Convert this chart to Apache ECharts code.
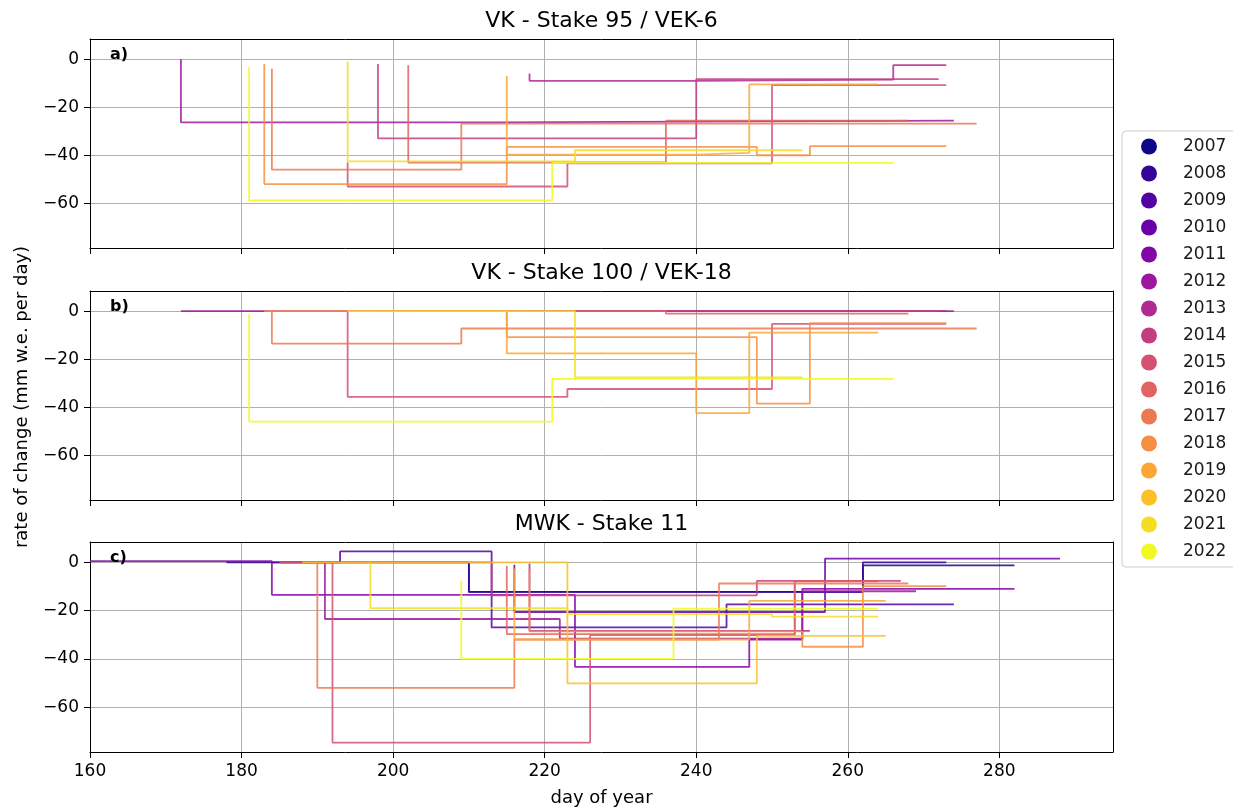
<!DOCTYPE html>
<html><head><meta charset="utf-8">
<script src="https://cdn.jsdelivr.net/npm/echarts@6/dist/echarts.min.js"></script>
<style>html,body{margin:0;padding:0;background:#fff}#c{width:1233px;height:809px}</style>
</head><body><div id="c"></div>
<script>
// ---------- data ----------
const years = [2007,2008,2009,2010,2011,2012,2013,2014,2015,2016,2017,2018,2019,2020,2021,2022];
const xTicks = [160,180,200,220,240,260,280];
const yTicks = [0,-20,-40,-60];
const panelTitles = ['VK - Stake 95 / VEK-6','VK - Stake 100 / VEK-18','MWK - Stake 11'];
const panelLetters = ['a)','b)','c)'];

// panel a) VK - Stake 95 / VEK-6   [day, rate]  (step drawn at start of each interval)
const a2012 = [[172,0],[213,-26.3],[274,-25.6]];
const a2013 = [[218,-6],[240,-9],[266,-8.5],[273,-2.5]];
const a2014 = [[198,-2],[240,-33],[272,-8.3]];
const a2015 = [[194,-43],[223,-53],[250,-43.4],[273,-10.8]];
const a2016 = [[202,-2.5],[236,-43],[268,-25.6]];
const a2017 = [[184,-4],[209,-46],[277,-26.8]];
const a2018 = [[183,-2],[215,-52],[248,-36.5],[255,-40],[273,-36.2]];
const a2019 = [[215,-7],[240,-39.7],[247,-39],[264,-10.5]];
const a2021 = [[194,-1.1],[224,-42.5],[254,-37.9]];
const a2022 = [[181,-3.4],[221,-58.8],[266,-43.2]];

// panel b) VK - Stake 100 / VEK-18
const b2012 = [[172,0],[274,0]];
const b2013 = [[218,0],[273,0]];
const b2014 = [[198,0],[272,0]];
const b2015 = [[194,0],[223,-35.7],[250,-32.4],[273,-5.3]];
const b2016 = [[202,0],[236,0],[268,-1]];
const b2017 = [[184,0],[209,-13.5],[277,-7.2]];
const b2018 = [[183,0],[215,0],[248,-10.8],[255,-38.5],[273,-5]];
const b2019 = [[215,0],[240,-17.6],[247,-42.4],[264,-8.9]];
const b2021 = [[194,0],[224,0],[254,-27.6]];
const b2022 = [[181,-1.3],[221,-46],[266,-28.2]];

// panel c) MWK - Stake 11
const c2007 = [[210,-0.5],[262,-12.3],[282,-1.3]];
const c2008 = [[178,0],[210,0],[262,-12.3],[273,0]];
const c2009 = [[184,0],[193,0],[213,4.5],[244,-27],[274,-17.4]];
const c2010 = [[216,-1],[257,-20.6],[288,1.5]];
const c2011 = [[160,0.5],[184,0.5],[224,-13.5],[247,-43.3],[254,-32],[282,-11]];
const c2012 = [[191,0],[222,-23.5],[254,-31.6],[269,-12]];
const c2013 = [[218,-0.5],[255,-28.4]];
const c2014 = [[185,0],[213,0],[248,-13.7],[267,-7.7]];
const c2015 = [[185,0],[192,0],[226,-74.7],[253,-30.2],[264,-7.7]];
const c2016 = [[215,-1.5],[253,-29.8],[264,-7.9]];
const c2017 = [[190,0],[216,-52],[243,-32],[268,-8.8]];
const c2018 = [[218,-3],[254,-28.6],[262,-35],[273,-9.9]];
const c2019 = [[216,-2.6],[247,-32],[265,-16]];
const c2020 = [[188,0],[223,0],[248,-50.2],[265,-30.5]];
const c2021 = [[197,0],[223,-19],[250,-21.5],[264,-22.5]];
const c2022 = [[209,-7.7],[237,-40],[264,-19.2]];

const panelData = [
  {2012:a2012,2013:a2013,2014:a2014,2015:a2015,2016:a2016,2017:a2017,2018:a2018,2019:a2019,2021:a2021,2022:a2022},
  {2012:b2012,2013:b2013,2014:b2014,2015:b2015,2016:b2016,2017:b2017,2018:b2018,2019:b2019,2021:b2021,2022:b2022},
  {2007:c2007,2008:c2008,2009:c2009,2010:c2010,2011:c2011,2012:c2012,2013:c2013,2014:c2014,2015:c2015,2016:c2016,2017:c2017,2018:c2018,2019:c2019,2020:c2020,2021:c2021,2022:c2022}
];

// ---------- style ----------
const plasma = ['#0d0887','#350498','#5302a3','#6a00a8','#8405a7','#9c179e','#b12a90','#c33d80',
                '#d35171','#e16462','#ed7953','#f68f44','#fca636','#fdc028','#f5dd24','#f0f921'];
const FONT = 'DejaVu Sans';
const gridTops = [39, 291, 542];
const gridH = [209, 209, 210];
const yMin = -78.6, yMax = 8.4, xMin = 160, xMax = 295;
const minus = v => String(v).replace('-', '\u2212');

const grids = [], xAxes = [], yAxes = [], series = [];
for (let p = 0; p < 3; p++) {
  grids.push({left: 90, top: gridTops[p], width: 1023, height: gridH[p], containLabel: false});
  xAxes.push({
    type: 'value', gridIndex: p, min: xMin, max: xMax, interval: 20,
    axisLine: {show: true, onZero: false, lineStyle: {color: '#000', width: 1}},
    axisTick: {show: true, length: 6, lineStyle: {color: '#000', width: 1}, customValues: xTicks},
    axisLabel: {show: p === 2, customValues: xTicks, fontSize: 17, color: '#000', fontFamily: FONT, margin: 11},
    splitLine: {show: true, lineStyle: {color: '#b0b0b0', width: 1}}
  });
  yAxes.push({
    type: 'value', gridIndex: p, min: yMin, max: yMax, minInterval: 20, maxInterval: 20,
    axisLine: {show: true, onZero: false, lineStyle: {color: '#000', width: 1}},
    axisTick: {show: true, length: 6, lineStyle: {color: '#000', width: 1}, customValues: yTicks},
    axisLabel: {customValues: yTicks, fontSize: 17, color: '#000', fontFamily: FONT, margin: 11, formatter: minus},
    splitLine: {show: true, lineStyle: {color: '#b0b0b0', width: 1}}
  });
}
for (let p = 0; p < 3; p++) {
  xAxes.push({type: 'value', gridIndex: p, position: 'top', min: xMin, max: xMax,
    axisLine: {show: true, onZero: false, lineStyle: {color: '#000', width: 1}},
    axisTick: {show: false}, axisLabel: {show: false}, splitLine: {show: false}, z: 5});
  yAxes.push({type: 'value', gridIndex: p, position: 'right', min: yMin, max: yMax,
    axisLine: {show: true, onZero: false, lineStyle: {color: '#000', width: 1}},
    axisTick: {show: false}, axisLabel: {show: false}, splitLine: {show: false}, z: 5});
}
for (let p = 0; p < 3; p++) {
  years.forEach((yr, i) => {
    const d = panelData[p][yr];
    if (!d) return;
    series.push({
      type: 'line', name: String(yr), xAxisIndex: p, yAxisIndex: p, data: d,
      step: 'start', showSymbol: false, symbol: 'none', clip: true,
      lineStyle: {color: plasma[i], width: 1.8, opacity: 0.85},
      itemStyle: {color: plasma[i]},
      emphasis: {disabled: true}, z: 2
    });
  });
}

const graphics = [];
for (let p = 0; p < 3; p++) {
  graphics.push({type: 'text', x: 601.5, y: gridTops[p] - 18, style: {text: panelTitles[p], font: '22px "' + FONT + '"', fill: '#000', textAlign: 'center', textVerticalAlign: 'middle'}});
  graphics.push({type: 'text', x: 110, y: gridTops[p] + 16, z: 10, style: {text: panelLetters[p], font: 'bold 16px "' + FONT + '"', fill: '#000', textAlign: 'left', textVerticalAlign: 'middle'}});
}
graphics.push({type: 'text', x: 601.5, y: 798, style: {text: 'day of year', font: '18px "' + FONT + '"', fill: '#000', textAlign: 'center', textVerticalAlign: 'middle'}});
graphics.push({type: 'text', x: 22, y: 397, rotation: Math.PI / 2, style: {text: 'rate of change (mm w.e. per day)', font: '18px "' + FONT + '"', fill: '#000', textAlign: 'center', textVerticalAlign: 'middle'}});

const chart = echarts.init(document.getElementById('c'), null, {renderer: 'canvas'});
chart.setOption({
  animation: false,
  backgroundColor: '#fff',
  grid: grids, xAxis: xAxes, yAxis: yAxes, series: series,
  legend: {
    orient: 'vertical', left: 1122, top: 131, icon: 'circle',
    itemWidth: 32, itemHeight: 16, itemGap: 10,
    padding: [7, 30, 7, 19], borderColor: '#cccccc', borderWidth: 1, borderRadius: 4, backgroundColor: '#fff',
    textStyle: {fontSize: 17, color: '#1a1a1a', fontFamily: FONT, padding: [0, 0, 0, 13]},
    data: years.map(String)
  },
  graphic: graphics
});
</script></body></html>
